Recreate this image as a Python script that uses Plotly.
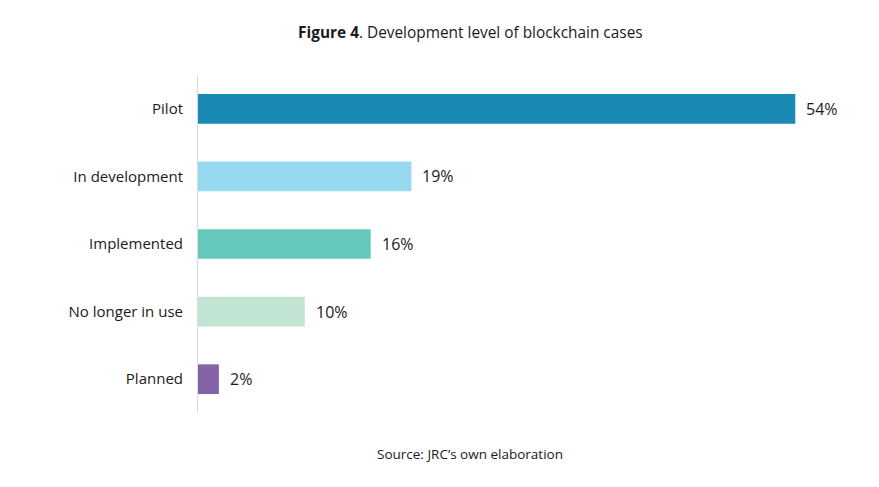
import plotly.graph_objects as go

# Development level of blockchain cases
stages = ["Pilot", "In development", "Implemented", "No longer in use", "Planned"]
shares = [54.3, 19.4, 15.7, 9.7, 1.9]
share_labels = ["54%", "19%", "16%", "10%", "2%"]
bar_colors = ["#1a8ab5", "#98d9f2", "#66c7bb", "#c2e4d2", "#8563a9"]

FONT = "Open Sans"
TXT = "#1b1b1b"

fig = go.Figure()

fig.add_trace(go.Bar(
    y=stages,
    x=shares,
    orientation="h",
    marker=dict(color=bar_colors, line=dict(width=0)),
    width=0.44,
    hoverinfo="skip",
    showlegend=False
))

# value labels just right of each bar
for stage, val, lab in zip(stages, shares, share_labels):
    fig.add_annotation(
        x=val, y=stage, text=lab,
        xanchor="left", yanchor="middle", xshift=9,
        showarrow=False,
        font=dict(family=FONT, size=16, color=TXT)
    )

# source note
fig.add_annotation(
    x=0.412, y=-0.09, xref="paper", yref="paper",
    text="Source: JRC\u2019s own elaboration",
    xanchor="center", yanchor="top", showarrow=False,
    font=dict(family=FONT, size=13.5, color=TXT)
)

fig.update_layout(
    width=879, height=487,
    paper_bgcolor="white", plot_bgcolor="white",
    margin=dict(l=190, r=29, t=67, b=82),
    title=dict(
        text="<b>Figure 4</b>. Development level of blockchain cases",
        x=0.526, xanchor="center", y=0.949, yanchor="middle",
        font=dict(family=FONT, size=15.4, color=TXT)
    ),
    font=dict(family=FONT, size=15, color=TXT),
    bargap=0.56
)

fig.update_xaxes(range=[0, 60], visible=False)
fig.update_yaxes(
    autorange="reversed",
    showline=True, linecolor="#d9d9d9", linewidth=1,
    showgrid=False, zeroline=False,
    ticks="", ticklabelstandoff=11,
    tickfont=dict(family=FONT, size=15, color=TXT)
)

fig.write_html("out.html")
